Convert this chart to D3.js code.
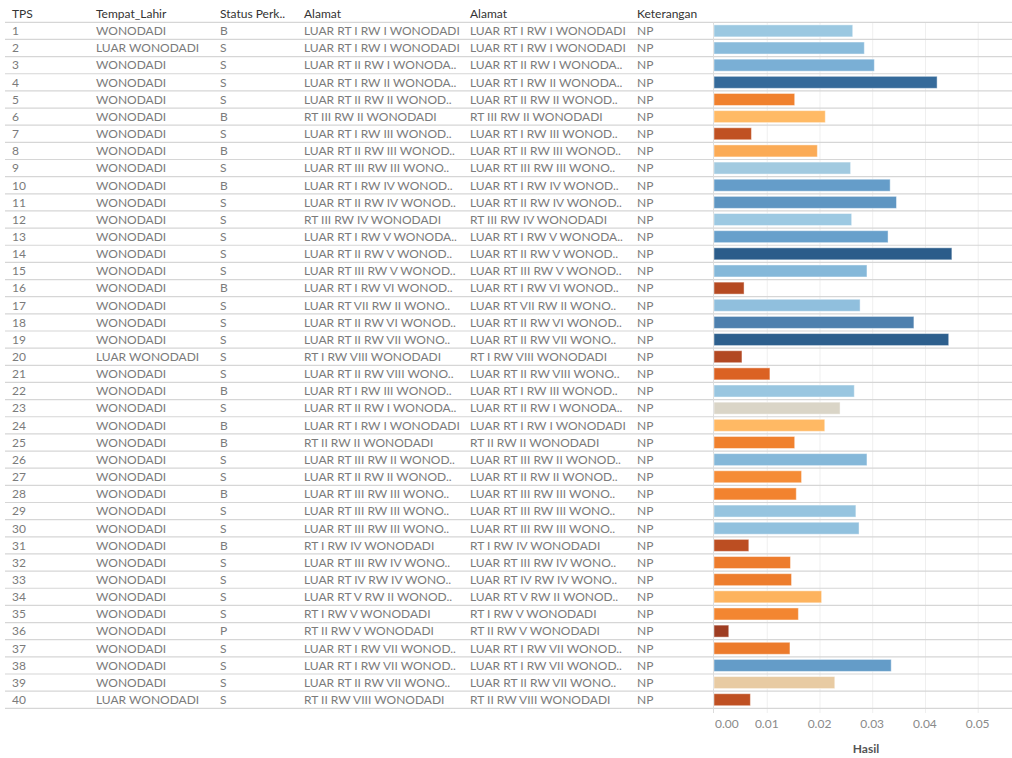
<!DOCTYPE html>
<html><head><meta charset="utf-8">
<script src="https://cdn.jsdelivr.net/npm/d3@7/dist/d3.min.js"></script>
<style>
body{margin:0;background:#fff;}
svg text{font-family:Lato,"Open Sans",sans-serif;}
</style></head>
<body><svg id="c" width="1012" height="758"></svg>
<script>
const tps = d3.range(1, 41).map(String);
const tempatLahir = ["WONODADI","LUAR WONODADI","WONODADI","WONODADI","WONODADI","WONODADI","WONODADI","WONODADI","WONODADI","WONODADI",
"WONODADI","WONODADI","WONODADI","WONODADI","WONODADI","WONODADI","WONODADI","WONODADI","WONODADI","LUAR WONODADI",
"WONODADI","WONODADI","WONODADI","WONODADI","WONODADI","WONODADI","WONODADI","WONODADI","WONODADI","WONODADI",
"WONODADI","WONODADI","WONODADI","WONODADI","WONODADI","WONODADI","WONODADI","WONODADI","WONODADI","LUAR WONODADI"];
const statusPerk = ["B","S","S","S","S","B","S","B","S","B","S","S","S","S","S","B","S","S","S","S",
"S","B","S","B","B","S","S","B","S","S","B","S","S","S","S","P","S","S","S","S"];
const alamat = ["LUAR RT I RW I WONODADI","LUAR RT I RW I WONODADI","LUAR RT II RW I WONODA..","LUAR RT I RW II WONODA..","LUAR RT II RW II WONOD..",
"RT III RW II WONODADI","LUAR RT I RW III WONOD..","LUAR RT II RW III WONOD..","LUAR RT III RW III WONO..","LUAR RT I RW IV WONOD..",
"LUAR RT II RW IV WONOD..","RT III RW IV WONODADI","LUAR RT I RW V WONODA..","LUAR RT II RW V WONOD..","LUAR RT III RW V WONOD..",
"LUAR RT I RW VI WONOD..","LUAR RT VII RW II WONO..","LUAR RT II RW VI WONOD..","LUAR RT II RW VII WONO..","RT I RW VIII WONODADI",
"LUAR RT II RW VIII WONO..","LUAR RT I RW III WONOD..","LUAR RT II RW I WONODA..","LUAR RT I RW I WONODADI","RT II RW II WONODADI",
"LUAR RT III RW II WONOD..","LUAR RT II RW II WONOD..","LUAR RT III RW III WONO..","LUAR RT III RW III WONO..","LUAR RT III RW III WONO..",
"RT I RW IV WONODADI","LUAR RT III RW IV WONO..","LUAR RT IV RW IV WONO..","LUAR RT V RW II WONOD..","RT I RW V WONODADI",
"RT II RW V WONODADI","LUAR RT I RW VII WONOD..","LUAR RT I RW VII WONOD..","LUAR RT II RW VII WONO..","RT II RW VIII WONODADI"];
const keterangan = tps.map(() => "NP");
const hasil = [0.0263,0.0285,0.0304,0.0423,0.0153,0.0211,0.0071,0.0196,0.0259,0.0334,
0.0346,0.0261,0.0330,0.0451,0.0290,0.0057,0.0277,0.0379,0.0445,0.0053,
0.0106,0.0266,0.0239,0.0210,0.0153,0.0290,0.0166,0.0156,0.0269,0.0275,
0.0066,0.0145,0.0147,0.0204,0.0160,0.0028,0.0144,0.0336,0.0229,0.0069];
const headers = ["TPS","Tempat_Lahir","Status Perk..","Alamat","Alamat","Keterangan"];
const xTicks = [0,0.01,0.02,0.03,0.04,0.05];

const rows = tps.map((t,i)=>({tps:t, lahir:tempatLahir[i], status:statusPerk[i], alamat:alamat[i], alamat2:alamat[i], ket:keterangan[i], v:hasil[i]}));
const cols = [
  {key:"tps", x:12},{key:"lahir", x:96},{key:"status", x:220},{key:"alamat", x:304},{key:"alamat2", x:470},{key:"ket", x:637}
];

const svg = d3.select("#c");
const yTop = 22.3, yBot = 708.3, xLeft = 5, xRight = 1012;
const rowScale = d3.scaleBand().domain(tps).range([yTop, yBot]);
const barScale = d3.scaleBand().domain(tps).range([yTop, yBot]).paddingInner(0.3).paddingOuter(0.15);
const x = d3.scaleLinear().domain([0, 0.0565]).range([714, 1012]);

const vmin = d3.min(hasil), vmax = d3.max(hasil), vmid = (vmin+vmax)/2;
const lo = t => vmin + (vmid - vmin)*t, hi = t => vmid + (vmax - vmid)*t;
const color = d3.scaleLinear()
  .domain([lo(0), lo(0.35), lo(0.62), lo(0.87), vmid, hi(0.1), hi(0.3), hi(0.45), hi(0.65), hi(0.87), hi(1)])
  .range(["#9e3d22","#d95f22","#f38530","#ffbb66","#d9d5c9","#9dc9e2","#7bb0d5","#659dc9","#4f81af","#356a9a","#2b5c8a"])
  .interpolate(d3.interpolateRgb);

// gridlines
svg.append("g").selectAll("line").data(xTicks.slice(1)).join("line")
  .attr("x1", d=>x(d)+0.5).attr("x2", d=>x(d)+0.5).attr("y1", yTop).attr("y2", 713)
  .attr("stroke", "#efefef").attr("stroke-width", 1);

// row lines
svg.append("g").selectAll("line").data(tps.concat(["end"])).join("line")
  .attr("x1", xLeft).attr("x2", xRight)
  .attr("y1", d => d==="end" ? yBot : rowScale(d))
  .attr("y2", d => d==="end" ? yBot : rowScale(d))
  .attr("stroke", "#d6d6d6").attr("stroke-width", 1.2);

// zero line
svg.append("line").attr("x1", x(0)-0.5).attr("x2", x(0)-0.5).attr("y1", yTop).attr("y2", 713)
  .attr("stroke", "#dcdcdc").attr("stroke-width", 1);

// bars
svg.append("g").selectAll("rect").data(rows).join("rect")
  .attr("x", x(0)).attr("y", d => barScale(d.tps))
  .attr("width", d => x(d.v) - x(0)).attr("height", barScale.bandwidth())
  .attr("fill", d => color(d.v))
  .attr("stroke", "rgba(255,255,255,0.45)").attr("stroke-width", 1);

// headers
svg.append("g").selectAll("text").data(headers).join("text")
  .attr("x", (d,i) => cols[i].x).attr("y", 18)
  .attr("font-size", 12).attr("fill", "#333").text(d => d);

// table text
const body = svg.append("g");
cols.forEach(c => {
  body.append("g").selectAll("text").data(rows).join("text")
    .attr("x", c.x).attr("y", d => rowScale(d.tps) + rowScale.bandwidth()/2 + 4.3)
    .attr("font-size", 12).attr("fill", "#7b7b7b").text(d => d[c.key]);
});

// axis labels
svg.append("g").selectAll("text").data(xTicks).join("text")
  .attr("x", d => d === 0 ? x(d) + 1 : x(d))
  .attr("text-anchor", d => d === 0 ? "start" : "middle")
  .attr("y", 728).attr("font-size", 12).attr("fill", "#8a8a8a")
  .text(d => d3.format(".2f")(d));

svg.append("text").attr("x", 866).attr("y", 753).attr("text-anchor", "middle")
  .attr("font-size", 12).attr("font-weight", "bold").attr("fill", "#555").text("Hasil");
</script></body></html>
